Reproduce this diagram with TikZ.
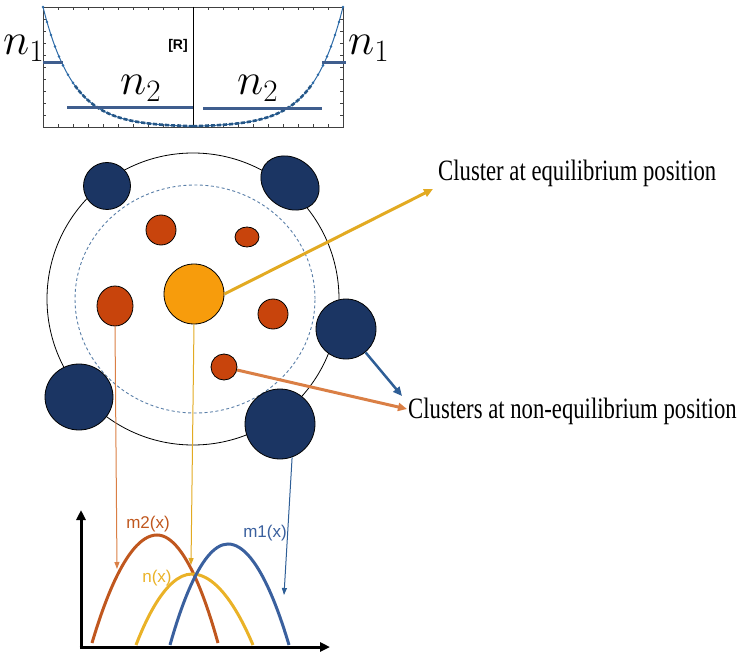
\documentclass[tikz,border=0pt]{standalone}
\usepackage{fontspec}
\usepackage{graphicx}
\setmainfont{Liberation Serif}
\setsansfont{Liberation Sans}
\usetikzlibrary{shapes.geometric,arrows.meta}
\definecolor{navy}{HTML}{1B3563}
\definecolor{rust}{HTML}{C8440C}
\definecolor{gold}{HTML}{F79C0C}
\definecolor{yline}{HTML}{E2AA22}
\definecolor{oline}{HTML}{DA7F45}
\definecolor{bline}{HTML}{2E5E96}
\definecolor{ccol}{HTML}{2F6CA8}
\definecolor{barcol}{HTML}{3F5E8E}
\definecolor{m2col}{HTML}{C0571E}
\definecolor{ncol}{HTML}{EAB227}
\definecolor{m1col}{HTML}{3A609E}
\definecolor{dcol}{HTML}{5A7FA8}
\begin{document}
\begin{tikzpicture}[x=1pt,y=-1pt,
  navyc/.style={circle,draw=black,line width=0.8pt,fill=navy,inner sep=0pt},
  navye/.style={ellipse,draw=black,line width=0.8pt,fill=navy,inner sep=0pt},
  rustc/.style={circle,draw=black,line width=0.8pt,fill=rust,inner sep=0pt},
  ruste/.style={ellipse,draw=black,line width=0.8pt,fill=rust,inner sep=0pt},
  bigarrow/.style={line width=3pt,-{Triangle[length=9pt,width=8pt]}},
  thinarrow/.style={line width=1pt,-{Triangle[length=7pt,width=5pt]}},
  lbl/.style={anchor=base west,inner sep=0pt,font=\fontsize{22.7}{26}\selectfont},
  nlbl/.style={anchor=base west,inner sep=0pt,font=\fontsize{24}{24}\selectfont},
  flbl/.style={inner sep=0pt,font=\sffamily\fontsize{17}{20}\selectfont},
  curve/.style={line width=3pt}
]
\useasboundingbox (0,0) rectangle (741,660);

% ---------- top plot ----------
\draw[black!75,line width=0.8pt] (43,7) rectangle (343,127);
\foreach \i in {1,...,19}{
  \draw[black!75,line width=0.6pt] ({43+15*\i},7) -- ++(0,3);
  \draw[black!75,line width=0.6pt] ({43+15*\i},127) -- ++(0,-3);
}
\foreach \j in {1,...,9}{
  \draw[black!75,line width=0.6pt] (43,{7+12*\j}) -- ++(3,0);
  \draw[black!75,line width=0.6pt] (343,{7+12*\j}) -- ++(-3,0);
}
\draw[black,line width=1pt] (193,7) -- (193,127);
% curve
\draw[ccol,line width=1pt] plot[domain=0:150,samples=60] ({43+\x},{127-120*exp(-\x/30)});
\draw[ccol,line width=1pt] plot[domain=0:150,samples=60] ({343-\x},{127-120*exp(-\x/30)});
\draw[ccol!80!black,line width=2.6pt,dash pattern=on 4pt off 2pt] plot[domain=32:150,samples=40] ({43+\x},{127-120*exp(-\x/30)});
\draw[ccol!80!black,line width=2.6pt,dash pattern=on 4pt off 2pt] plot[domain=32:150,samples=40] ({343-\x},{127-120*exp(-\x/30)});
\foreach \d in {0,4,8,12,16,20,25,30} {
  \fill[ccol] ({43+\d},{127-120*exp(-\d/30)}) circle (1.4pt);
  \fill[ccol] ({343-\d},{127-120*exp(-\d/30)}) circle (1.4pt);
}
% bars
\draw[barcol,line width=3pt] (43,63) -- (63,63);
\draw[barcol,line width=3pt] (322,63) -- (346,63);
\draw[barcol,line width=3pt] (67,108) -- (193,108);
\draw[barcol,line width=3pt] (203,109) -- (322,109);
% labels
\node[nlbl] (n1l) at (3,55) {\scalebox{1.8}{$n_1$}};
\node[nlbl] (n1r) at (348,55) {\scalebox{1.8}{$n_1$}};
\node[nlbl] (n2l) at (120,95) {\scalebox{1.8}{$n_2$}};
\node[nlbl] (n2r) at (237,95) {\scalebox{1.8}{$n_2$}};
\node[inner sep=0pt,font=\sffamily\bfseries\fontsize{14}{15}\selectfont] (R) at (178,46) {[R]};

% ---------- cluster picture ----------
\node[circle,draw=black,line width=0.8pt,minimum size=292pt,inner sep=0pt] (outer) at (193,299) {};
\node[ellipse,draw=dcol,line width=0.9pt,dash pattern=on 3pt off 2.5pt,minimum width=240pt,minimum height=228pt,inner sep=0pt] (inner) at (195,299) {};

\node[navyc,minimum size=47pt] (nv1) at (107,186) {};
\node[navye,minimum width=62pt,minimum height=50pt,rotate=-35] (nv2) at (290,183) {};
\node[navyc,minimum size=60pt] (nv3) at (346,329) {};
\node[navye,minimum width=68pt,minimum height=66pt] (nv4) at (79,397) {};
\node[navyc,minimum size=70pt] (nv5) at (280,424) {};

\node[rustc,minimum size=30pt] (r1) at (161,230) {};
\node[ruste,minimum width=24pt,minimum height=20pt] (r2) at (247,237) {};
\node[ruste,minimum width=36pt,minimum height=40pt] (r3) at (115,306) {};
\node[rustc,minimum size=30pt] (r4) at (273,314) {};
\node[rustc,minimum size=26pt] (r5) at (224,367) {};
\node[circle,draw=black,line width=0.8pt,fill=gold,minimum size=60pt,inner sep=0pt] (big) at (194,294) {};

% labels
\node[lbl] (eq) at (438,181) {\scalebox{1}[1.3]{Cluster at equilibrium position}};
\node[lbl] (neq) at (408,418) {\scalebox{1}[1.3]{Clusters at non-equilibrium position}};
\coordinate (eqtip) at (433,189);
\coordinate (neqo) at (407,409);
\coordinate (neqb) at (402,396);

\draw[yline,bigarrow] (big.east) -- (eqtip);
\draw[oline,bigarrow] (r5) -- (neqo);
\draw[bline,line width=2.5pt,-{Triangle[length=9pt,width=8pt]}] (nv3) -- (neqb);

% ---------- bottom plot ----------
\coordinate (m2tip) at (117,569);
\coordinate (ntip) at (191,565);
\coordinate (m1tip) at (284,595);
\draw[oline,thinarrow] (r3.south) -- (m2tip);
\draw[yline,thinarrow] (big.south) -- (ntip);
\draw[bline,thinarrow] (nv5.-70) -- (m1tip);

\coordinate (orig) at (81,647);
\coordinate (ytop) at (81,510);
\coordinate (xend) at (330,647);
\draw[black,line width=3pt,-{Triangle[length=10pt,width=9pt]}] (81,648.5) -- (ytop);
\draw[black,line width=3pt,-{Triangle[length=10pt,width=9pt]}] (79.5,647) -- (xend);

\draw[m2col,curve] (92,643) parabola bend (157,535) (218,643);
\draw[ncol,curve] (136,645) parabola bend (192,574) (253,645);
\draw[m1col,curve] (170,645) parabola bend (228,544) (289,645);

\node[flbl,text=m2col] (m2l) at (148,524) {m2(x)};
\node[flbl,text=ncol] (nl) at (157,578) {n(x)};
\node[flbl,text=m1col] (m1l) at (265,533) {m1(x)};
\end{tikzpicture}
\end{document}
